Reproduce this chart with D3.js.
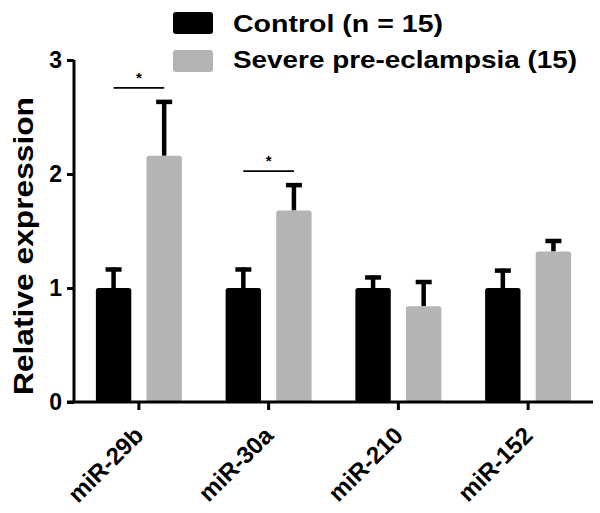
<!DOCTYPE html>
<html><head><meta charset="utf-8">
<script src="https://cdn.jsdelivr.net/npm/d3@7"></script>
<style>body{margin:0;background:#fff}svg{display:block}text{font-family:"Liberation Sans",Arial,Helvetica,sans-serif}</style>
</head><body>
<script>
const categories = ["miR-29b","miR-30a","miR-210","miR-152"];
const seriesNames = ["Control (n = 15)","Severe pre-eclampsia (15)"];
const controlValues = [1.0, 1.0, 1.0, 1.0];
const controlErrors = [0.18, 0.18, 0.11, 0.17];
const severeValues = [2.16, 1.68, 0.84, 1.32];
const severeErrors = [0.49, 0.24, 0.23, 0.11];
const yTicks = [0,1,2,3];
const significance = ["*","*","",""];
const colors = ["#000000","#b4b4b4"];

const W=600,H=513;
const svg=d3.select("body").append("svg").attr("width",W).attr("height",H);
const x=d3.scaleBand().domain(categories).range([74,593]).padding(0);
const y=d3.scaleLinear().domain([0,3]).range([402,60]);
const inner=d3.scaleBand().domain([0,1]).range([-43,43]).paddingInner(0.3);

const series=[{v:controlValues,e:controlErrors},{v:severeValues,e:severeErrors}];
series.forEach((s,si)=>{
  const g=svg.append("g");
  categories.forEach((c,i)=>{
    const bx=x(c)+x.bandwidth()/2+inner(si);
    const bw=inner.bandwidth();
    const cx=bx+bw/2;
    g.append("line").attr("x1",cx).attr("x2",cx).attr("y1",y(s.v[i])).attr("y2",y(s.v[i]+s.e[i]))
      .attr("stroke","#000").attr("stroke-width",4.5);
    g.append("line").attr("x1",cx-8).attr("x2",cx+8).attr("y1",y(s.v[i]+s.e[i])+2).attr("y2",y(s.v[i]+s.e[i])+2)
      .attr("stroke","#000").attr("stroke-width",4.5);
    g.append("rect").attr("x",bx).attr("y",y(s.v[i])).attr("width",bw).attr("height",y(0)-y(s.v[i]))
      .attr("rx",2.5).attr("fill",colors[si]);
  });
});

categories.forEach((c,i)=>{
  if(!significance[i]) return;
  const c0=x(c)+x.bandwidth()/2+inner(0)+inner.bandwidth()/2;
  const c1=x(c)+x.bandwidth()/2+inner(1)+inner.bandwidth()/2;
  const top=y(severeValues[i]+severeErrors[i])-12;
  svg.append("line").attr("x1",c0).attr("x2",c1).attr("y1",top).attr("y2",top).attr("stroke","#000").attr("stroke-width",1.6);
  svg.append("text").attr("x",(c0+c1)/2).attr("y",top-5).attr("text-anchor","middle")
    .attr("font-size",15).attr("font-weight","bold").text(significance[i]);
});

const yAxis=d3.axisLeft(y).tickValues(yTicks).tickSize(7).tickPadding(5).tickFormat(d3.format("d"));
const gy=svg.append("g").attr("transform","translate(74,0)").call(yAxis);
gy.select(".domain").attr("stroke-width",3).attr("d","M0,60V402");
gy.selectAll(".tick line").attr("stroke-width",3);
gy.selectAll(".tick text").attr("font-size",23).attr("font-weight","bold").attr("fill","#000").attr("dy","0.32em");

const xAxis=d3.axisBottom(x).tickSize(8).tickSizeOuter(0);
const gx=svg.append("g").attr("transform","translate(0,402)").call(xAxis);
gx.select(".domain").attr("stroke-width",3).attr("d","M67,0H593");
gx.selectAll(".tick line").attr("stroke-width",3);
gx.selectAll(".tick text").attr("font-size",24).attr("font-weight","bold").attr("fill","#000")
  .attr("text-anchor","end").attr("dy",null).attr("y",0)
  .attr("transform","translate(6,35) rotate(-45)");

svg.append("text").attr("transform","translate(33,246) rotate(-90)").attr("text-anchor","middle")
  .attr("font-size",28).attr("font-weight","bold")
  .attr("textLength",298).attr("lengthAdjust","spacingAndGlyphs").text("Relative expression");

const leg=svg.append("g");
const legLen=[210,344];
seriesNames.forEach((n,i)=>{
  const yy=[12,50][i];
  leg.append("rect").attr("x",173).attr("y",yy).attr("width",40).attr("height",22).attr("rx",3).attr("fill",colors[i]);
  leg.append("text").attr("x",233).attr("y",[31.5,67.5][i]).attr("font-size",24.5).attr("font-weight","bold")
    .attr("textLength",legLen[i]).attr("lengthAdjust","spacingAndGlyphs").text(n);
});
</script>
</body></html>
